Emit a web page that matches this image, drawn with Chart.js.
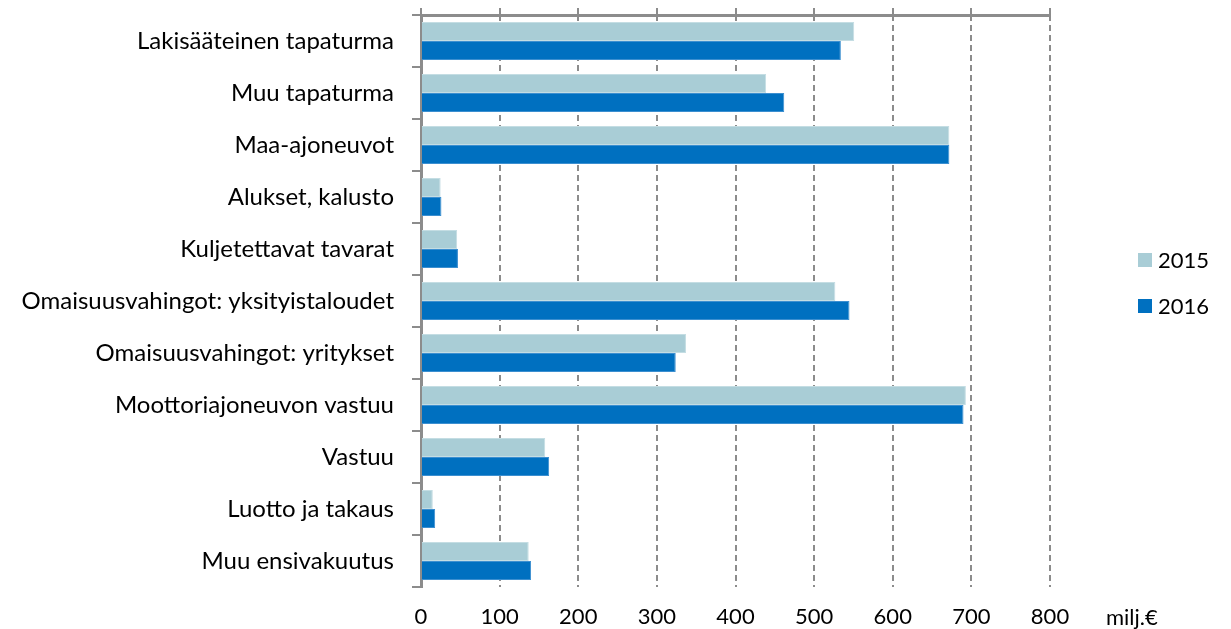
<!DOCTYPE html>
<html><head><meta charset="utf-8">
<script src="https://cdn.jsdelivr.net/npm/chart.js@4"></script>
<style>html,body{margin:0;padding:0;background:#fff}#wrap{width:1231px;height:629px}</style>
</head><body><div id="wrap"><canvas id="c" width="1231" height="629"></canvas></div>
<script>
const categories = [
  'Lakisääteinen tapaturma',
  'Muu tapaturma',
  'Maa-ajoneuvot',
  'Alukset, kalusto',
  'Kuljetettavat tavarat',
  'Omaisuusvahingot: yksityistaloudet',
  'Omaisuusvahingot: yritykset',
  'Moottoriajoneuvon vastuu',
  'Vastuu',
  'Luotto ja takaus',
  'Muu ensivakuutus'
];
const values2015 = [551, 439, 672, 25, 46, 527, 337, 693, 158, 15, 137];
const values2016 = [534, 462, 672, 26, 47, 545, 324, 690, 163, 18, 140];
const seriesLabels = ['2015', '2016'];
const xTicks = [0, 100, 200, 300, 400, 500, 600, 700, 800];
const unitLabel = 'milj.€';

const FONT = 'Lato';
const GRID = '#8c8c8c';

const extras = {
  id: 'extras',
  afterDraw(chart) {
    const ctx = chart.ctx;
    ctx.save();
    ctx.font = '22px ' + FONT;
    ctx.fillStyle = '#000';
    ctx.textBaseline = 'middle';
    ctx.textAlign = 'left';
    chart.data.datasets.forEach((ds, i) => {
      const y = 260 + 46 * i;
      ctx.fillStyle = ds.backgroundColor;
      ctx.fillRect(1138, y - 7, 14, 14);
      ctx.fillStyle = '#000';
      ctx.fillText(ds.label, 1158, y + 1);
    });
    const xs = chart.scales.x;
    ctx.fillText(unitLabel, xs.right + 56, 618);
    ctx.restore();
  }
};

function build() {
  new Chart(document.getElementById('c'), {
    type: 'bar',
    data: {
      labels: categories,
      datasets: [
        { label: seriesLabels[0], data: values2015, backgroundColor: '#a9cdd6', borderColor: '#c4dde3', borderWidth: 1, borderSkipped: 'start', categoryPercentage: 0.73, barPercentage: 1.0 },
        { label: seriesLabels[1], data: values2016, backgroundColor: '#0070c0', borderColor: '#3c8fd0', borderWidth: 1, borderSkipped: 'start', categoryPercentage: 0.73, barPercentage: 1.0 }
      ]
    },
    options: {
      indexAxis: 'y',
      responsive: false,
      animation: false,
      layout: { padding: { top: 8, right: 181, bottom: 0, left: 0 } },
      plugins: { legend: { display: false }, tooltip: { enabled: false } },
      scales: {
        x: {
          type: 'linear', position: 'bottom', min: 0, max: 800,
          afterBuildTicks: s => { s.ticks = xTicks.map(v => ({ value: v })); },
          afterFit: s => { s.height = 42; },
          ticks: { font: { family: FONT, size: 22 }, color: '#000', padding: 17 },
          grid: { color: GRID, lineWidth: 2, drawTicks: false },
          border: { display: false, dash: [6, 4] }
        },
        x2: {
          type: 'linear', position: 'top', min: 0, max: 800,
          afterBuildTicks: s => { s.ticks = xTicks.map(v => ({ value: v })); },
          afterFit: s => { s.height = 7; s.paddingLeft = 0; s.paddingRight = 0; },
          ticks: { display: false },
          grid: { drawOnChartArea: false, drawTicks: true, tickLength: 7, color: GRID, lineWidth: 2 },
          border: { display: true, color: GRID, width: 3 }
        },
        y: {
          type: 'category', position: 'left',
          afterFit: s => { s.width = 421; s.paddingTop = 0; s.paddingBottom = 0; },
          ticks: { font: { family: FONT, size: 24 }, color: '#000', padding: 18 },
          grid: { offset: true, drawOnChartArea: false, drawTicks: true, tickLength: 9, color: GRID, lineWidth: 2 },
          border: { display: true, color: GRID, width: 3 }
        }
      }
    },
    plugins: [extras]
  });
}
if (document.fonts && document.fonts.load) {
  document.fonts.load('20px ' + FONT).then(build, build);
} else { build(); }
</script>
</body></html>
